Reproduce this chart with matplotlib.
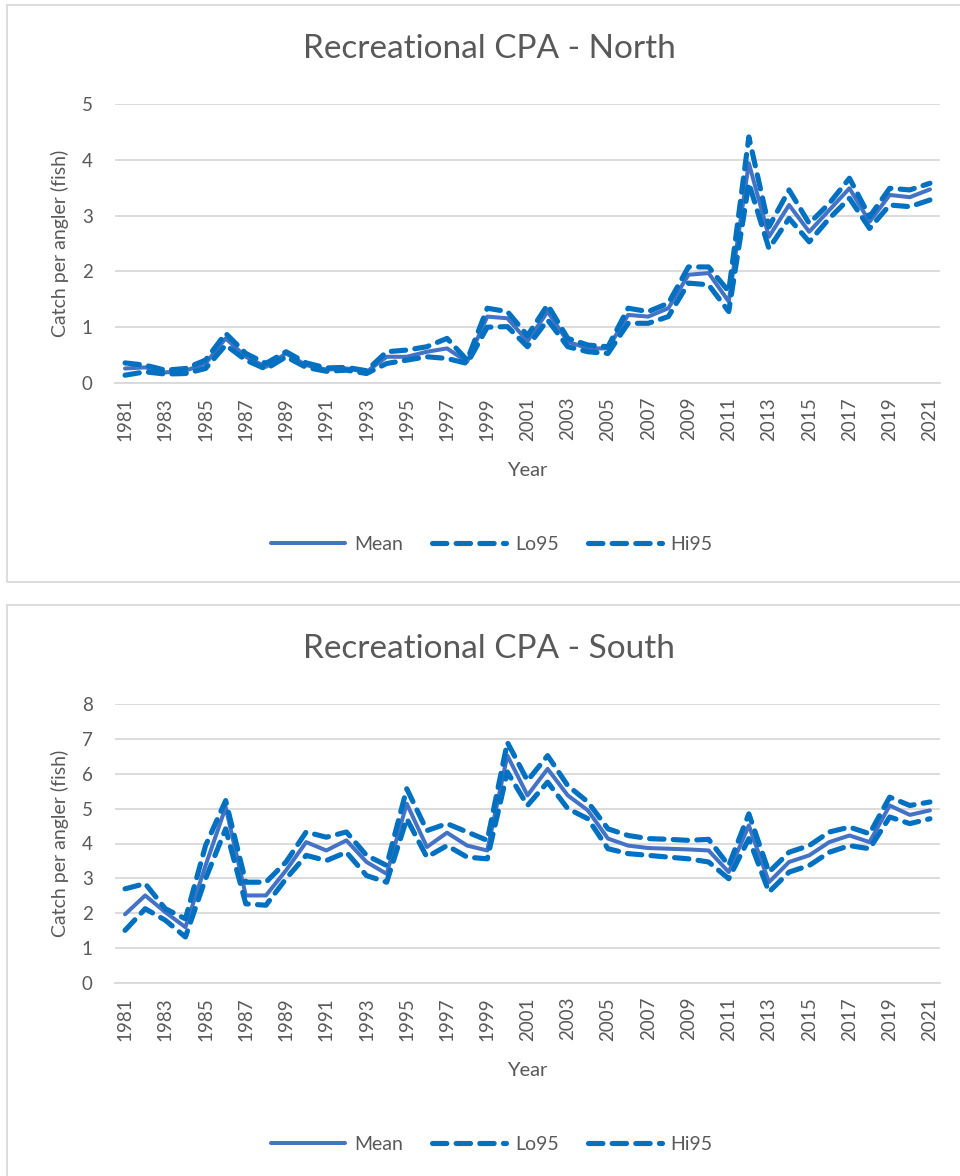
import matplotlib
matplotlib.use('Agg')
import matplotlib.pyplot as plt
from matplotlib.lines import Line2D
from matplotlib.patches import Rectangle

plt.rcParams['font.family'] = ['Lato', 'DejaVu Sans']

years = list(range(1981, 2022))

north_mean = [0.26, 0.28, 0.19, 0.22, 0.35, 0.80, 0.47, 0.29, 0.53, 0.32,
              0.24, 0.26, 0.20, 0.47, 0.47, 0.56, 0.62, 0.38, 1.19, 1.16,
              0.75, 1.28, 0.74, 0.62, 0.62, 1.22, 1.19, 1.34, 1.94, 1.97,
              1.46, 3.94, 2.62, 3.19, 2.71, 3.10, 3.49, 2.89, 3.37, 3.33, 3.47]
north_lo = [0.14, 0.20, 0.16, 0.17, 0.26, 0.68, 0.41, 0.25, 0.47, 0.28,
            0.21, 0.23, 0.17, 0.35, 0.41, 0.47, 0.44, 0.35, 1.00, 1.01,
            0.65, 1.13, 0.65, 0.56, 0.53, 1.07, 1.07, 1.19, 1.79, 1.76,
            1.28, 3.58, 2.41, 2.95, 2.53, 2.95, 3.31, 2.77, 3.19, 3.16, 3.28]
north_hi = [0.36, 0.32, 0.23, 0.26, 0.41, 0.89, 0.53, 0.35, 0.56, 0.36,
            0.27, 0.28, 0.22, 0.56, 0.59, 0.65, 0.80, 0.41, 1.34, 1.28,
            0.85, 1.40, 0.80, 0.68, 0.65, 1.34, 1.28, 1.43, 2.08, 2.08,
            1.64, 4.41, 2.80, 3.46, 2.86, 3.22, 3.67, 2.98, 3.49, 3.46, 3.58]

south_mean = [1.97, 2.51, 2.03, 1.60, 3.37, 5.04, 2.51, 2.51, 3.23, 4.04,
              3.80, 4.09, 3.47, 3.13, 5.14, 3.90, 4.31, 3.94, 3.80, 6.52,
              5.38, 6.14, 5.38, 4.95, 4.14, 3.94, 3.87, 3.85, 3.83, 3.80,
              3.18, 4.52, 2.89, 3.47, 3.66, 4.04, 4.23, 4.04, 5.09, 4.82, 4.95]
south_lo = [1.51, 2.13, 1.80, 1.32, 2.99, 4.42, 2.27, 2.23, 2.99, 3.66,
            3.51, 3.75, 3.08, 2.89, 4.71, 3.61, 3.94, 3.61, 3.56, 6.05,
            5.09, 5.76, 5.00, 4.71, 3.85, 3.71, 3.66, 3.61, 3.56, 3.47,
            2.99, 4.14, 2.61, 3.18, 3.37, 3.75, 3.94, 3.85, 4.76, 4.57, 4.71]
south_hi = [2.70, 2.85, 2.13, 1.84, 3.94, 5.23, 2.89, 2.89, 3.47, 4.33,
            4.18, 4.33, 3.66, 3.37, 5.57, 4.37, 4.57, 4.33, 4.09, 6.90,
            5.80, 6.52, 5.66, 5.19, 4.42, 4.23, 4.14, 4.12, 4.09, 4.12,
            3.37, 4.85, 3.18, 3.75, 3.94, 4.33, 4.47, 4.28, 5.33, 5.09, 5.19]

GRAY_TXT = '#595959'
GRID = '#D9D9D9'
MEAN_C = '#4472C4'
CI_C = '#0070C0'
DASH = (2.8, 1.8)

W, H = 960, 1176
fig = plt.figure(figsize=(W / 100, H / 100), dpi=100)


def fx(px):
    return px / W


def fy(py):
    return 1 - py / H


def panel(top, title, mean, lo, hi, ymax):
    # chart frame
    fig.patches.append(Rectangle((fx(7), fy(top + 577)), fx(960), 577 / H,
                                 transform=fig.transFigure, fill=False,
                                 edgecolor=GRID, linewidth=1.3))
    ax = fig.add_axes([fx(115), fy(top + 378), fx(825), 279 / H])
    x = list(range(len(years)))
    ax.plot(x, mean, color=MEAN_C, lw=2.9, solid_capstyle='round', label='Mean', zorder=3)
    ax.plot(x, lo, color=CI_C, lw=3.7, dashes=DASH, dash_capstyle='round', label='Lo95', zorder=4)
    ax.plot(x, hi, color=CI_C, lw=3.7, dashes=DASH, dash_capstyle='round', label='Hi95', zorder=4)
    ax.set_xlim(-0.5, len(years) - 0.5)
    ax.set_ylim(0, ymax)
    ax.set_yticks(range(0, ymax + 1))
    ax.set_xticks(x[::2])
    ax.set_xticklabels([str(y) for y in years[::2]], rotation=90)
    ax.tick_params(axis='both', length=0, labelsize=13.5, colors=GRAY_TXT)
    ax.tick_params(axis='x', pad=10)
    ax.tick_params(axis='y', pad=16)
    ax.grid(axis='y', color=GRID, lw=1.3)
    ax.set_axisbelow(True)
    for s in ['top', 'right', 'left']:
        ax.spines[s].set_visible(False)
    ax.spines['bottom'].set_color(GRID)
    ax.spines['bottom'].set_linewidth(1.3)
    ax.spines['bottom'].set_zorder(1)

    fig.text(fx(489), fy(top + 44), title, ha='center', va='center',
             fontsize=24, color=GRAY_TXT)
    fig.text(fx(60), fy(top + 238), 'Catch per angler (fish)', rotation=90,
             ha='center', va='center', fontsize=14, color=GRAY_TXT)
    fig.text(fx(527), fy(top + 466), 'Year', ha='center', va='center',
             fontsize=14.5, color=GRAY_TXT)

    handles = [Line2D([], [], color=MEAN_C, lw=2.9, solid_capstyle='round'),
               Line2D([], [], color=CI_C, lw=3.7, dashes=DASH, dash_capstyle='round'),
               Line2D([], [], color=CI_C, lw=3.7, dashes=DASH, dash_capstyle='round')]
    fig.legend(handles, ['Mean', 'Lo95', 'Hi95'], loc='center',
               bbox_to_anchor=(fx(492), fy(top + 539)), ncol=3, frameon=False,
               fontsize=14, labelcolor=GRAY_TXT, handlelength=3.8,
               handletextpad=0.45, columnspacing=1.5)
    return ax


panel(5, 'Recreational CPA - North', north_mean, north_lo, north_hi, 5)
panel(605, 'Recreational CPA - South', south_mean, south_lo, south_hi, 8)

fig.savefig('out.png', dpi=100, facecolor='white')
